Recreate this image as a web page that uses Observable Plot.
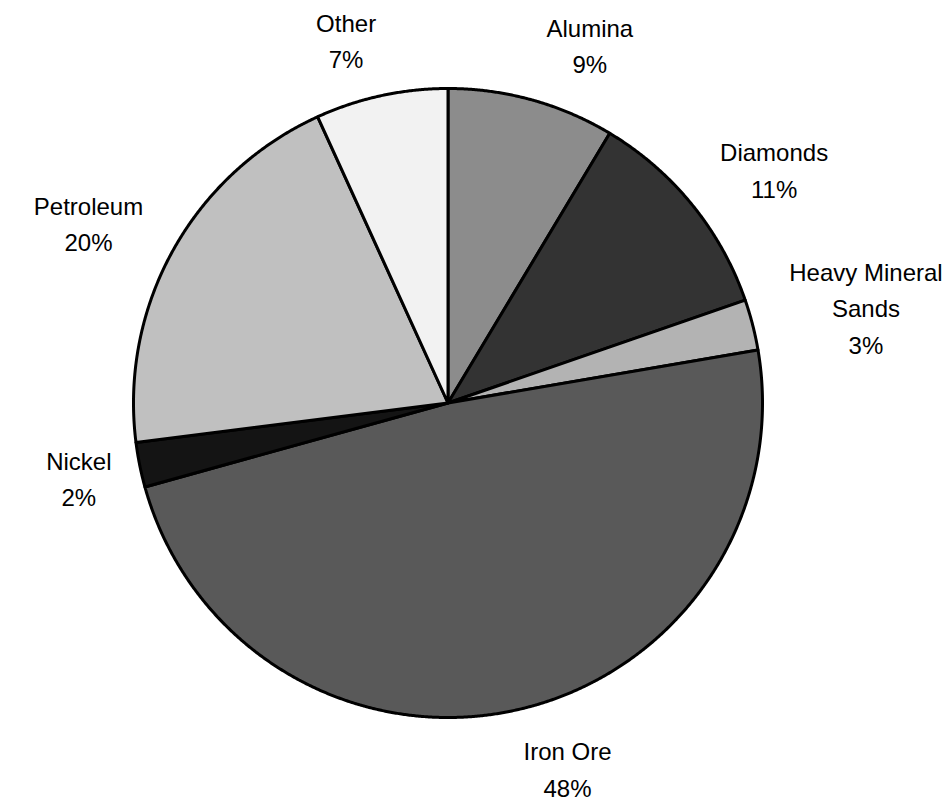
<!DOCTYPE html>
<html><head><meta charset="utf-8">
<script src="https://cdn.jsdelivr.net/npm/d3@7"></script>
<script src="https://cdn.jsdelivr.net/npm/@observablehq/plot@0.6"></script>
<style>body{margin:0;background:#fff}</style>
</head><body><div id="chart"></div>
<script>
// ---- data ----
const categories = ["Alumina", "Diamonds", "Heavy Mineral Sands", "Iron Ore", "Nickel", "Petroleum", "Other"];
const labelLines = [["Alumina"], ["Diamonds"], ["Heavy Mineral", "Sands"], ["Iron Ore"], ["Nickel"], ["Petroleum"], ["Other"]];
const shares = [8.6, 11.1, 2.6, 48.4, 2.3, 20.2, 6.8];
// ---- styles ----
const fills = ["#8c8c8c", "#333333", "#b3b3b3", "#595959", "#141414", "#c0c0c0", "#f2f2f2"];

const W = 942, H = 807;
const cx = 447.5, cy = 402.5, r = 314.5;
const fontSize = 24, lineH = 1.52, font = "Liberation Sans, Arial, sans-serif";

const total = d3.sum(shares);
const pie = d3.pie().sort(null).value(d => d)(shares);

// slice outlines
const pts = [];
pie.forEach((p, i) => {
  const a0 = p.startAngle, a1 = p.endAngle;
  const n = Math.max(2, Math.ceil((a1 - a0) / (Math.PI / 720)));
  pts.push({cat: categories[i], fill: fills[i], x: cx, y: cy});
  for (let k = 0; k <= n; k++) {
    const a = a0 + (a1 - a0) * k / n;
    pts.push({cat: categories[i], fill: fills[i], x: cx + r * Math.sin(a), y: cy - r * Math.cos(a)});
  }
});

// labels (outside end, box placed beyond the slice's mid-angle point)
const ctx = document.createElement("canvas").getContext("2d");
ctx.font = `${fontSize}px ${font}`;
const labels = pie.map((p, i) => {
  const lines = [...labelLines[i], Math.round(shares[i] / total * 100) + "%"];
  const w = d3.max(lines, s => ctx.measureText(s).width);
  const h = lines.length * fontSize * lineH;
  const a = (p.startAngle + p.endAngle) / 2;
  const s = Math.sin(a), c = Math.cos(a);
  const R = r + 22;
  const sx = Math.max(-1, Math.min(1, 4 * s)) * 1.2;
  return {
    text: lines.join("\n"),
    x: cx + R * s + sx * w / 2,
    y: cy - R * c - c * h / 2
  };
});

const chart = Plot.plot({
  width: W, height: H, margin: 0,
  x: {domain: [0, W], range: [0, W], axis: null},
  y: {domain: [0, H], range: [0, H], axis: null},
  color: {type: "identity"},
  marks: [
    Plot.line(pts, {x: "x", y: "y", z: "cat", fill: "fill", stroke: "#000", strokeWidth: 3,
      strokeLinejoin: "round", curve: "linear-closed"}),
    Plot.text(labels, {x: "x", y: "y", text: "text", fontSize, lineHeight: lineH,
      lineAnchor: "middle", textAnchor: "middle", fill: "#000", fontFamily: font})
  ],
  style: {fontFamily: font, background: "#fff"}
});
document.getElementById("chart").appendChild(chart);
</script>
</body></html>
